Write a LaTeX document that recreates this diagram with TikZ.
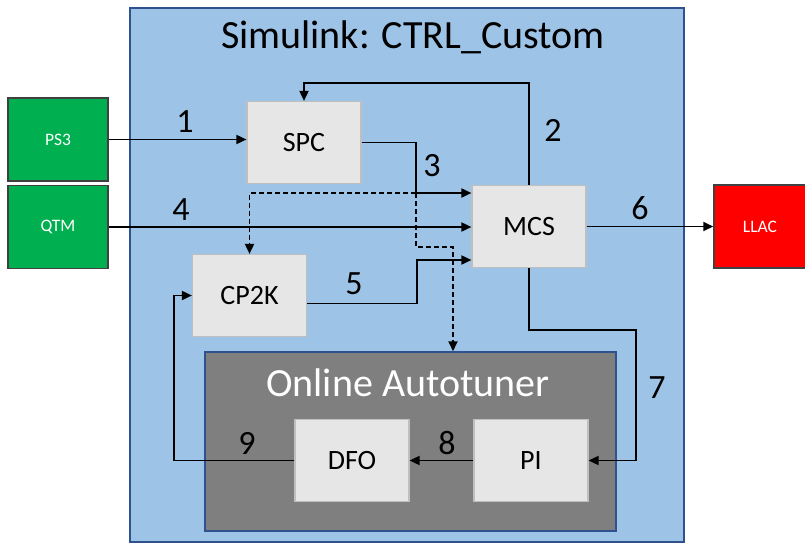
\documentclass[tikz,border=0pt]{standalone}
\usepackage{fontspec}
\setmainfont{Carlito}
\usepackage{xcolor}
\usepackage{tikz}
\usetikzlibrary{arrows.meta}
\definecolor{simblue}{HTML}{9DC3E6}
\definecolor{frameblue}{HTML}{2F528F}
\definecolor{blockgray}{HTML}{E7E6E6}
\definecolor{blockline}{HTML}{BFBFBF}
\definecolor{tunergray}{HTML}{7F7F7F}
\definecolor{iogreen}{HTML}{00B050}
\definecolor{iored}{HTML}{FF0000}
\tikzset{
  block/.style={draw=blockline, line width=1.2pt, fill=blockgray,
    minimum width=114pt, minimum height=82pt, inner sep=0pt,
    font=\fontsize{28}{32}\selectfont},
  iobox/.style={draw=black!75, line width=1.5pt, text=white,
    minimum width=100pt, minimum height=83pt, inner sep=0pt,
    font=\fontsize{17.5}{20}\selectfont},
  wire/.style={line width=1.8pt, -{Triangle[length=10pt,width=9pt]}},
  num/.style={font=\fontsize{34}{38}\selectfont, inner sep=0pt}
}

\begin{document}
\begin{tikzpicture}[x=1pt, y=-1pt]
    \useasboundingbox (0,0) rectangle (805,544);
    % frames
    \node[draw=frameblue, line width=1.5pt, fill=simblue,
      minimum width=554pt, minimum height=534pt, inner sep=0pt] (simulink) at (407,275) {};
    \node[font=\fontsize{40}{44}\selectfont] (simtitle) at (413,37) {Simulink: CTRL\_Custom};
    \node[draw=frameblue, line width=1.5pt, fill=tunergray,
      minimum width=411pt, minimum height=179pt, inner sep=0pt] (tuner) at (410.5,441.5) {};
    \node[font=\fontsize{40}{44}\selectfont, text=white] (tunertitle) at (408,383) {Online Autotuner};

    % blocks
    \node[block] (SPC)  at (304,142.5) {SPC};
    \node[block] (MCS)  at (529,226.5) {MCS};
    \node[block] (CP2K) at (249.5,295.5) {CP2K};
    \node[block] (DFO)  at (352,460.5) {DFO};
    \node[block] (PI)   at (531,460.5) {PI};

    % outside
    \node[iobox, fill=iogreen] (PS3) at (58,139.5) {PS3};
    \node[iobox, fill=iogreen] (QTM) at (58,227) {QTM};
    \node[iobox, fill=iored, minimum width=92pt] (LLAC) at (760,226.5) {LLAC};

    % helper points
    \coordinate (j3) at (416,193);
    \coordinate (j3b) at (453,247);
    \coordinate (j5) at (417,260);
    \coordinate (j7) at (636,330);

    % connectors
    \draw[wire] (PS3.east) -- (PS3.east -| SPC.west);
    \draw[wire] (MCS.north) -- ++(0,-102) -| (SPC.north);
    \draw[wire] (SPC.east) -| (j3) -- (j3 -| MCS.west);
    \draw[wire] (QTM.east) -- (QTM.east -| MCS.west);
    \draw[wire] ([yshift=-8pt]CP2K.east) -| (j5) -- (j5 -| MCS.west);
    \draw[wire] (MCS.east) -- (LLAC.west);
    \draw[wire] (MCS.south) |- (j7) |- (PI.east);
    \draw[wire] (PI.west) -- (DFO.east);
    \draw[wire] (DFO.west) -| ([xshift=-18pt]CP2K.west) -- (CP2K.west);
    \draw[wire, dashed, dash pattern=on 5pt off 3pt] (j3) -| (CP2K.north);
    \draw[wire, dashed, dash pattern=on 5pt off 3pt] (j3) |- (j3b) -- (j3b |- tuner.north);

    % numbers
    \node[num] (n1) at (185,122) {1};
    \node[num] (n2) at (553,130) {2};
    \node[num] (n3) at (432,166) {3};
    \node[num] (n4) at (181,210) {4};
    \node[num] (n5) at (354,284) {5};
    \node[num] (n6) at (640,208) {6};
    \node[num] (n7) at (657,388) {7};
    \node[num] (n8) at (447,443) {8};
    \node[num] (n9) at (247,443) {9};
  \end{tikzpicture}
\end{document}
